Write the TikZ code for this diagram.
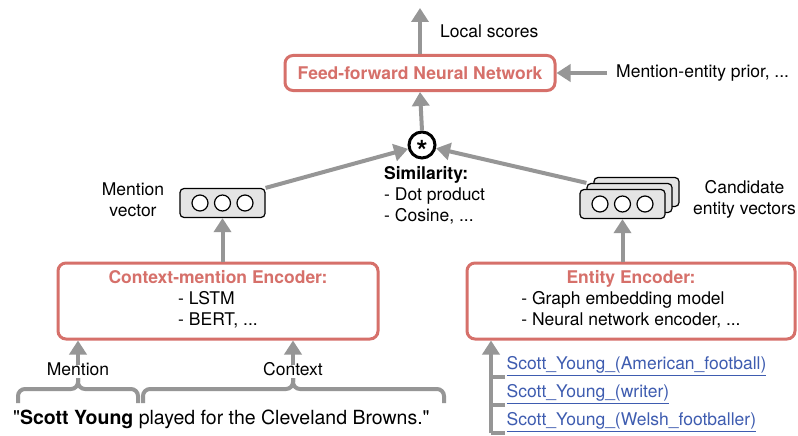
\documentclass[tikz,border=0pt]{standalone}
\usepackage{fontspec}
\setmainfont{TeX Gyre Heros}
\usetikzlibrary{arrows.meta}
\definecolor{boxred}{RGB}{214,112,106}
\definecolor{arrgray}{RGB}{150,150,150}
\definecolor{linkblue}{RGB}{62,92,176}
\definecolor{vecfill}{RGB}{228,228,228}
\newcommand{\straightq}{{\addfontfeatures{Ligatures=TeXOff}\symbol{34}}}
\begin{document}
\begin{tikzpicture}[x=1pt,y=-1pt,
  every node/.style={font=\fontsize{17.5}{21}\selectfont, inner sep=0pt},
  gline/.style={draw=arrgray, line width=4pt},
  garrow/.style={gline, -{Triangle[length=14pt,width=17pt]}},
  redbox/.style={draw=boxred, line width=3pt, rounded corners=8pt, fill=white},
  vecbox/.style={draw=black, line width=1.2pt, rounded corners=4pt, fill=vecfill, minimum width=85pt, minimum height=29pt},
  dot/.style={circle, draw=black, line width=1.2pt, fill=white, minimum size=16pt},
  link/.style={text=linkblue, anchor=west, inner sep=1.5pt},
  brace/.style={gline, rounded corners=7pt}
]
\useasboundingbox (0,0) rectangle (798,436);
\fill[white] (0,0) rectangle (798,436);

% top
\node[redbox, minimum width=270pt, minimum height=35pt, text=boxred, font=\fontsize{17.5}{21}\selectfont\bfseries] (ffnn) at (420,73) {Feed-forward Neural Network};
\coordinate (top) at (420,8);
\node[anchor=west] (local) at (440,31) {Local scores};
\node[anchor=west] (prior) at (616,73) {Mention-entity prior, ...};
\draw[garrow] (prior.west) ++(-9pt,0) coordinate (pw) -- (ffnn.east);
\draw[garrow] (ffnn.north) -- (top);

% similarity
\node[circle, draw=black, line width=3pt, minimum size=26pt] (star) at (422,145) {\smash{\raisebox{-16pt}{\fontsize{29}{29}\selectfont\bfseries *}}};
\draw[garrow] (star.north) -- (ffnn.south);
\node[anchor=north west, align=left] (sim) at (384,166) {\textbf{Similarity:}\\- Dot product\\- Cosine, ...};

% mention vector
\node[vecbox] (mv) at (222.5,203) {};
\node[dot] (mv1) at (200,203) {};
\node[dot] (mv2) at (222.5,203) {};
\node[dot] (mv3) at (245,203) {};
\node[align=center] (mvlabel) at (133,200) {Mention\\vector};
\draw[garrow] (mv.north east) -- (star);

% candidate vectors
\node[vecbox] (cv3) at (636.5,192) {};
\node[vecbox] (cv2) at (629.5,198) {};
\node[vecbox] (cv) at (622.5,204) {};
\node[dot] (cv1d) at (600,204) {};
\node[dot] (cv2d) at (622.5,204) {};
\node[dot] (cv3d) at (645,204) {};
\node[align=center, anchor=east] (cvlabel) at (796,199) {Candidate\\entity vectors};
\draw[garrow] (cv2.north west) -- (star);

% encoders
\node[redbox, minimum width=320pt, minimum height=76pt, align=center] (cme) at (218,301)
  {{\color{boxred}\bfseries Context-mention Encoder:}\\
   \begin{tabular}[t]{@{}l@{}}- LSTM\\- BERT, ...\end{tabular}};
\node[redbox, minimum width=328pt, minimum height=76pt, align=center] (ent) at (631,301)
  {{\color{boxred}\bfseries Entity Encoder:}\\
   \begin{tabular}[t]{@{}l@{}}- Graph embedding model\\- Neural network encoder, ...\end{tabular}};
\draw[garrow] (cme.north -| mv.south) -- (mv.south);
\draw[garrow] (ent.north -| cv.south) -- (cv.south);

% sentence
\node[anchor=center] (mlabel) at (78,369) {Mention};
\node[anchor=center] (clabel) at (293,369) {Context};
\draw[garrow] (mlabel.north) ++(0,-3pt) -- (mlabel.north |- cme.south);
\draw[garrow] (clabel.north) ++(0,-3pt) -- (clabel.north |- cme.south);
\node[anchor=west, font=\fontsize{19.5}{23}\selectfont] (sent) at (13,419) {\straightq\textbf{Scott Young} played for the Cleveland Browns.\straightq};
\coordinate (mb) at (78,378);
\coordinate (cb) at (293,378);
\draw[brace] (18,403) -- (18,389) -- (mb |- 0,389) -- (mb);
\draw[brace] (138,403) -- (138,389) -- (mb |- 0,389) -- (mb);
\draw[brace] (143,403) -- (143,389) -- (cb |- 0,389) -- (cb);
\draw[brace] (444,403) -- (444,389) -- (cb |- 0,389) -- (cb);

% entity candidates
\node[link] (l1) at (505,366) {\underline{Scott\_Young\_(American\_football)}};
\node[link] (l2) at (505,394) {\underline{Scott\_Young\_(writer)}};
\node[link] (l3) at (505,422) {\underline{Scott\_Young\_(Welsh\_footballer)}};
\coordinate (trunk) at (491,433);
\draw[garrow] (trunk) -- (trunk |- ent.south);
\draw[gline] (l1.south west) -- (l1.south west -| trunk);
\draw[gline] (l2.south west) -- (l2.south west -| trunk);
\draw[gline] (l3.south west) -- (l3.south west -| trunk);
\end{tikzpicture}
\end{document}
